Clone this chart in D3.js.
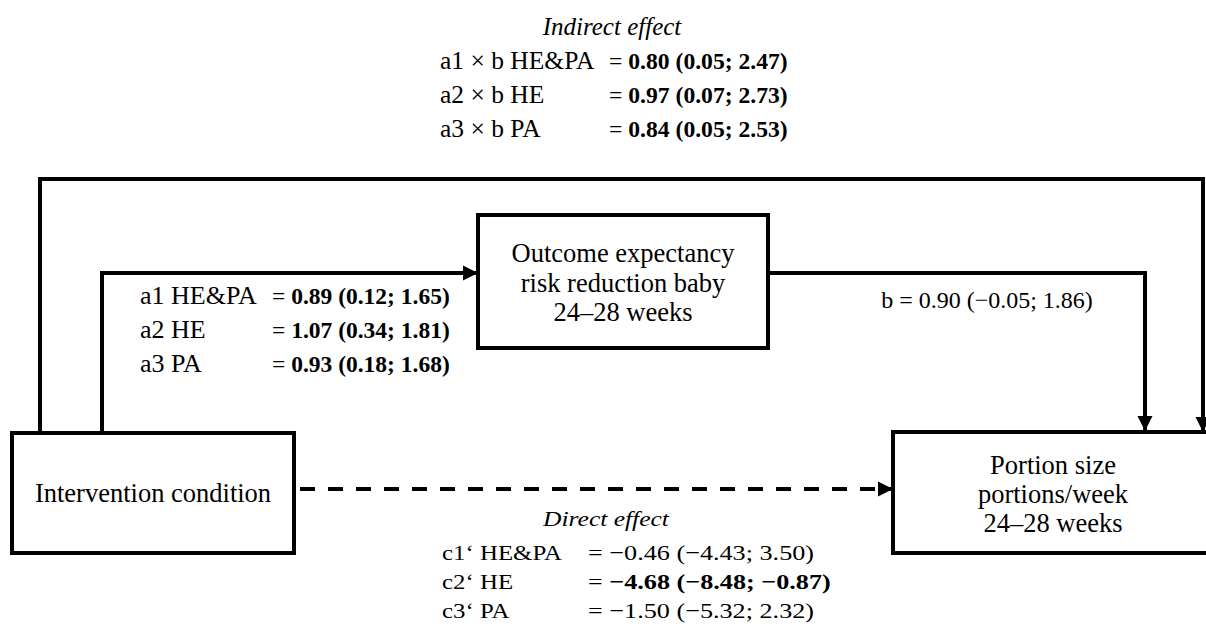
<!DOCTYPE html>
<html>
<head>
<meta charset="utf-8">
<title>Mediation model</title>
<style type="text/css">
	body { margin: 0; background: #fff; }
	svg { display: block; }
	text { fill: #000; }
</style>
</head>
<body>
<svg id="chart"></svg>
<script src="https://cdn.jsdelivr.net/npm/d3@7/dist/d3.min.js"></script>
<script type="text/javascript">

// boxes (text lines)
var predictorLines = ["Intervention condition"];
var mediatorLines = ["Outcome expectancy", "risk reduction baby", "24\u201328 weeks"];
var outcomeLines = ["Portion size", "portions/week", "24\u201328 weeks"];

// indirect effect
var indirectTitle = "Indirect effect";
var indirectLabels = ["a1 \u00d7 b HE&PA", "a2 \u00d7 b HE", "a3 \u00d7 b PA"];
var indirectValues = ["= 0.80 (0.05; 2.47)", "= 0.97 (0.07; 2.73)", "= 0.84 (0.05; 2.53)"];
var indirectBold = [true, true, true];

// a paths
var aLabels = ["a1 HE&PA", "a2 HE", "a3 PA"];
var aValues = ["= 0.89 (0.12; 1.65)", "= 1.07 (0.34; 1.81)", "= 0.93 (0.18; 1.68)"];
var aBold = [true, true, true];

// b path
var bLabel = "b = 0.90 (\u22120.05; 1.86)";

// direct effect
var directTitle = "Direct effect";
var directLabels = ["c1\u2018 HE&PA", "c2\u2018 HE", "c3\u2018 PA"];
var directValues = ["= \u22120.46 (\u22124.43; 3.50)", "= \u22124.68 (\u22128.48; \u22120.87)", "= \u22121.50 (\u22125.32; 2.32)"];
var directBold = [false, true, false];

var width = 1206, height = 632;
var serif = "'Liberation Serif', 'Times New Roman', Times, serif";

var svg = d3.select("#chart")
	.attr("width", width)
	.attr("height", height)
	.style("font-family", serif);

svg.append("defs").append("marker")
	.attr("id", "arrow")
	.attr("viewBox", "0 0 10 10")
	.attr("refX", 10).attr("refY", 5)
	.attr("markerUnits", "userSpaceOnUse")
	.attr("markerWidth", 15).attr("markerHeight", 17)
	.attr("orient", "auto")
  .append("path")
	.attr("d", "M0,0L10,5L0,10Z")
	.attr("fill", "#000");

// layout of the boxes (dy = nudge of the text block)
var boxes = [
	{ lines: predictorLines, x: 12, y: 433, w: 282, h: 120, lh: 29, dy: 0 },
	{ lines: mediatorLines, x: 478, y: 215, w: 290, h: 133, lh: 29.5, dy: 1.5 },
	{ lines: outcomeLines, x: 893, y: 432, w: 320, h: 121, lh: 29, dy: 2 }
];
var P = boxes[0], M = boxes[1], O = boxes[2];

var line = d3.line();

// connectors
var paths = [
	{ pts: [[40, P.y], [40, 179], [1203, 179], [1203, O.y]], dash: null },
	{ pts: [[102, P.y], [102, 273], [M.x, 273]], dash: null },
	{ pts: [[M.x + M.w, 273], [1145, 273], [1145, O.y - 1]], dash: null },
	{ pts: [[P.x + P.w + 6, 489], [O.x, 489]], dash: "15,13" }
];

svg.append("g").selectAll("path")
	.data(paths)
  .enter().append("path")
	.attr("d", d => line(d.pts))
	.attr("fill", "none")
	.attr("stroke", "#000")
	.attr("stroke-width", 4)
	.attr("stroke-linejoin", "miter")
	.attr("stroke-dasharray", d => d.dash)
	.attr("marker-end", "url(#arrow)");

var bx = svg.append("g").selectAll("g")
	.data(boxes)
  .enter().append("g");

bx.append("rect")
	.attr("x", d => d.x).attr("y", d => d.y)
	.attr("width", d => d.w).attr("height", d => d.h)
	.attr("fill", "#fff")
	.attr("stroke", "#000")
	.attr("stroke-width", 4);

bx.each(function (d) {
	var n = d.lines.length;
	var cy = d.y + d.h / 2 + d.dy;
	d3.select(this).selectAll("text")
		.data(d.lines)
	  .enter().append("text")
		.attr("x", d.x + d.w / 2)
		.attr("y", (t, i) => cy + (i - (n - 1) / 2) * d.lh)
		.attr("dy", "0.33em")
		.attr("text-anchor", "middle")
		.attr("font-size", 26.5)
		.text(t => t);
});

// text with a horizontal stretch (source font is wider than Times)
function stretched(g, x, y, fs, sx) {
	return g.append("text")
		.attr("transform", "translate(" + x + "," + y + ") scale(" + sx + ",1)")
		.attr("font-size", fs);
}

// coefficient blocks
function block(title, labels, values, bold, o) {
	var g = svg.append("g");
	if (title) {
		stretched(g, o.tx, o.ty, o.tfs, o.tsx)
			.attr("text-anchor", "middle")
			.attr("font-style", "italic")
			.text(title);
	}
	labels.forEach(function (lab, i) {
		var y = o.y0 + i * o.dy;
		stretched(g, o.lx, y, o.lfs, o.lsx).text(lab);
		var t = stretched(g, o.ex, y, o.vfs, o.vsx);
		var v = values[i];
		t.append("tspan").text(v.slice(0, 2));
		t.append("tspan")
			.attr("font-weight", bold[i] ? "bold" : "normal")
			.text(v.slice(2));
	});
}

block(indirectTitle, indirectLabels, indirectValues, indirectBold,
	{ tx: 612, ty: 35, tfs: 25, tsx: 1.0, lx: 440, ex: 609, y0: 69, dy: 34,
	  lfs: 25, lsx: 1.02, vfs: 24, vsx: 0.985 });

block(null, aLabels, aValues, aBold,
	{ lx: 140, ex: 272, y0: 304, dy: 34, lfs: 25, lsx: 1.04, vfs: 23.5, vsx: 1.0 });

stretched(svg, 987, 308, 24, 1.0)
	.attr("text-anchor", "middle")
	.text(bLabel);

block(directTitle, directLabels, directValues, directBold,
	{ tx: 606, ty: 526, tfs: 22, tsx: 1.16, lx: 442, ex: 588, y0: 560, dy: 29,
	  lfs: 22, lsx: 1.13, vfs: 22, vsx: 1.19 });

</script>
</body>
</html>
